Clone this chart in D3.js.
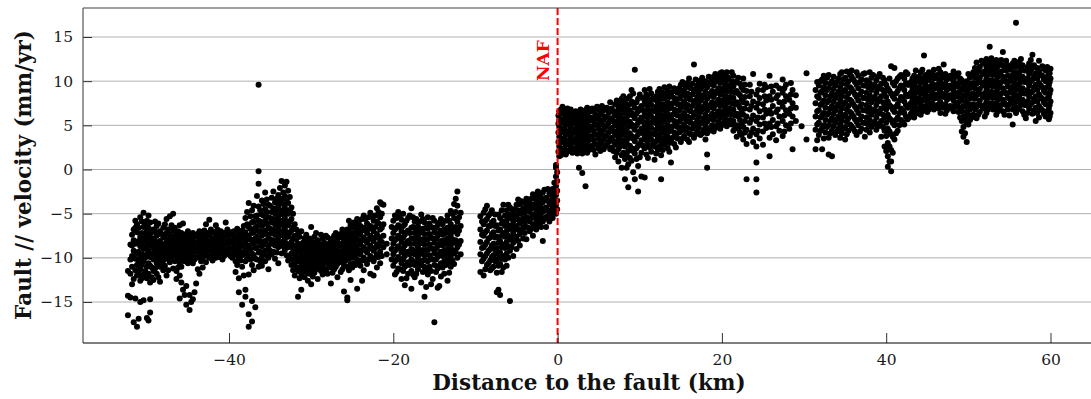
<!DOCTYPE html>
<html><head><meta charset="utf-8">
<script src="https://cdn.jsdelivr.net/npm/d3@7"></script>
<style>body{margin:0;background:#fff}svg{display:block}</style>
</head><body>
<svg id="c" width="1091" height="399"></svg>
<script>
// Distance to fault (km) and velocities (mm/yr) sampled at that distance
const westColumns = [
[-52.3,[-11.5,-14.3,-16.5]],
[-52.0,[-8.5,-10.2,-11.8,-14.5]],
[-51.6,[-6.8,-8.0,-9.2,-12.4,-17.3]],
[-51.2,[-6.2,-7.1,-9.5,-10.8,-12.0,-17.8]],
[-50.8,[-5.4,-7.6,-8.7,-10.0,-11.3,-12.6,-15.0]],
[-50.4,[-4.9,-6.5,-7.9,-9.0,-10.4,-11.9,-14.8]],
[-50.0,[-5.8,-7.0,-8.3,-9.6,-11.0,-12.3,-16.8]],
[-49.6,[-6.0,-7.3,-8.6,-9.9,-10.9,-12.8,-14.7,-16.2]],
[-49.2,[-6.8,-7.8,-8.9,-10.2,-11.5,-12.5]],
[-48.8,[-6.4,-7.5,-8.4,-9.4,-10.6,-11.8]],
[-48.4,[-7.0,-8.1,-9.0,-10.0,-11.0,-12.7]],
[-48.0,[-6.6,-7.7,-8.6,-9.5,-10.3,-11.4]],
[-47.6,[-5.6,-7.2,-8.2,-9.1,-10.1,-12.0]],
[-47.2,[-5.3,-7.4,-8.3,-9.3,-10.5]],
[-46.8,[-5.0,-6.9,-7.9,-8.8,-9.7,-11.2]],
[-46.4,[-7.1,-8.0,-8.9,-9.8,-11.5,-12.4]],
[-46.0,[-6.3,-7.6,-8.5,-9.4,-10.6,-12.0,-14.6]],
[-45.6,[-6.1,-7.8,-8.7,-9.5,-10.2,-13.6]],
[-45.2,[-7.3,-8.2,-9.0,-9.9,-13.2,-15.3]],
[-44.8,[-7.5,-8.4,-9.3,-10.1,-14.2,-15.9]],
[-44.4,[-7.2,-8.1,-9.0,-9.8,-10.6,-14.7]],
[-44.0,[-7.6,-8.5,-9.3,-10.0,-12.9]],
[-43.6,[-7.0,-7.9,-8.8,-9.6,-11.8]],
[-43.2,[-7.4,-8.3,-9.2,-10.1,-11.1]],
[-42.8,[-6.2,-7.7,-8.6,-9.4,-10.5]],
[-42.4,[-5.7,-7.5,-8.4,-9.2,-10.0]],
[-42.0,[-7.8,-8.7,-9.5,-10.3]],
[-41.6,[-6.3,-7.6,-8.5,-9.3,-10.0]],
[-41.2,[-7.3,-8.2,-9.0,-9.9]],
[-40.8,[-7.7,-8.6,-9.4,-10.2]],
[-40.4,[-6.0,-7.5,-8.4,-9.2]],
[-40.0,[-7.9,-8.8,-9.6]],
[-39.6,[-7.4,-8.3,-9.1,-10.0]],
[-39.2,[-7.6,-8.5,-9.4,-10.4,-11.6]],
[-38.8,[-7.2,-8.1,-9.0,-9.9,-12.3,-13.9]],
[-38.4,[-6.9,-7.8,-8.7,-9.7,-11.0,-15.3]],
[-38.0,[-5.5,-7.1,-8.2,-9.2,-10.4,-13.6,-14.4]],
[-37.6,[-3.8,-6.5,-7.5,-8.6,-9.6,-11.9,-16.4,-17.8]],
[-37.2,[-4.6,-6.0,-7.2,-8.4,-9.5,-10.8,-14.9,-17.2]],
[-36.8,[-5.3,-6.6,-7.8,-8.9,-10.1,-15.6]],
[-36.4,[-0.2,-1.6,-4.2,-5.8,-7.0,-8.2,-9.4,-11.0,9.6]],
[-36.0,[-3.5,-5.1,-6.4,-7.5,-8.7,-9.9,-10.9]],
[-35.6,[-2.6,-4.5,-5.8,-6.9,-8.1,-9.2,-10.4]],
[-35.2,[-4.0,-5.4,-6.6,-7.7,-8.9,-10.0,-11.3]],
[-34.8,[-3.2,-4.8,-6.0,-7.2,-8.4,-9.6]],
[-34.4,[-3.7,-5.0,-6.2,-7.4,-8.6,-10.1]],
[-34.0,[-2.9,-4.1,-5.3,-6.5,-7.7,-8.8,-10.6]],
[-33.6,[-1.3,-3.3,-4.6,-5.8,-7.0,-8.2,-9.5]],
[-33.2,[-1.8,-3.0,-4.3,-5.5,-6.7,-7.9,-9.1]],
[-32.8,[-2.4,-3.8,-5.0,-6.3,-7.6,-8.8,-10.3]],
[-32.4,[-4.3,-5.6,-6.9,-8.2,-9.5,-10.8]],
[-32.0,[-6.2,-7.5,-8.6,-9.6,-10.7,-12.0]],
[-31.6,[-7.3,-8.4,-9.4,-10.4,-11.5,-14.4]],
[-31.2,[-7.0,-8.8,-9.7,-10.6,-11.8,-13.6]],
[-30.8,[-7.8,-8.9,-9.9,-10.9,-12.2]],
[-30.4,[-8.2,-9.2,-10.1,-11.1,-12.6]],
[-30.0,[-6.5,-8.6,-9.5,-10.4,-11.4,-13.0]],
[-29.6,[-7.6,-8.9,-9.8,-10.7,-11.7]],
[-29.2,[-8.0,-9.1,-10.0,-10.9,-12.4]],
[-28.8,[-7.4,-8.7,-9.6,-10.5,-11.5]],
[-28.4,[-8.3,-9.3,-10.2,-11.2]],
[-28.0,[-7.7,-8.8,-9.7,-10.6,-11.8]],
[-27.6,[-8.1,-9.0,-9.9,-10.8,-12.9]],
[-27.2,[-7.5,-8.5,-9.4,-10.3,-11.3]],
[-26.8,[-7.9,-8.9,-9.8,-10.7,-12.2]],
[-26.4,[-7.3,-8.4,-9.3,-10.2,-11.6]],
[-26.0,[-7.0,-8.0,-9.0,-9.9,-10.8,-13.8]],
[-25.6,[-6.8,-7.9,-8.9,-9.8,-11.0,-14.5,-14.8]],
[-25.2,[-6.3,-7.5,-8.6,-9.6,-10.7,-12.5]],
[-24.8,[-6.0,-7.2,-8.3,-9.4,-10.6]],
[-24.4,[-5.6,-6.8,-7.9,-9.0,-10.2,-13.5]],
[-24.0,[-6.4,-7.4,-8.5,-9.6,-10.9]],
[-23.6,[-5.2,-6.6,-7.7,-8.8,-10.0,-11.4]],
[-23.2,[-6.1,-7.2,-8.3,-9.4,-10.7]],
[-22.8,[-4.9,-6.4,-7.5,-8.6,-9.8,-11.8]],
[-22.4,[-5.8,-7.0,-8.1,-9.2,-10.4,-12.0]],
[-22.0,[-4.4,-5.9,-7.3,-8.5,-9.6,-11.1]],
[-21.6,[-3.7,-5.4,-6.8,-8.0,-9.3,-10.6]],
[-21.2,[-4.0,-6.2,-7.5,-8.8]],
[-20.8,[-8.4,-9.6]],
[-20.2,[-6.5,-7.8,-9.0,-10.2]],
[-19.8,[-5.2,-6.8,-8.0,-9.2,-10.4,-11.9]],
[-19.4,[-4.8,-6.3,-7.5,-8.7,-9.9,-11.2]],
[-19.0,[-5.7,-7.0,-8.2,-9.4,-10.6,-12.4]],
[-18.6,[-6.2,-7.4,-8.6,-9.8,-11.0,-13.1]],
[-18.2,[-5.5,-6.9,-8.1,-9.3,-10.5,-11.8]],
[-17.8,[-4.4,-6.6,-7.8,-9.0,-10.2,-11.5,-13.5]],
[-17.4,[-5.9,-7.2,-8.4,-9.6,-10.8,-12.2]],
[-17.0,[-6.4,-7.6,-8.8,-10.0,-11.3]],
[-16.6,[-5.1,-6.8,-8.0,-9.2,-10.5,-12.8]],
[-16.2,[-6.0,-7.3,-8.5,-9.7,-11.0,-14.4]],
[-15.8,[-5.4,-6.7,-7.9,-9.1,-10.4,-11.9]],
[-15.4,[-6.5,-7.7,-8.9,-10.1,-11.5,-13.0]],
[-15.0,[-5.8,-7.1,-8.3,-9.5,-10.8,-17.3]],
[-14.6,[-6.3,-7.5,-8.7,-9.9,-11.2,-13.4]],
[-14.2,[-5.6,-6.9,-8.1,-9.3,-10.6,-12.1]],
[-13.8,[-6.8,-8.0,-9.2,-10.4,-11.8]],
[-13.4,[-5.2,-6.6,-7.8,-9.0,-10.2,-12.6]],
[-13.0,[-4.7,-6.2,-7.4,-8.6,-9.8,-11.0]],
[-12.6,[-3.9,-5.5,-7.0,-8.3,-9.5,-10.7]],
[-12.2,[-2.5,-4.1,-5.9,-7.3,-8.8,-10.0]],
[-11.8,[-4.9,-6.4,-8.1,-9.6]],
[-9.4,[-5.3,-6.8,-8.2,-9.6,-11.6]],
[-9.0,[-4.9,-6.2,-7.5,-8.8,-10.1,-12.0]],
[-8.6,[-4.1,-5.6,-6.9,-8.2,-9.5,-10.8]],
[-8.2,[-5.0,-6.4,-7.7,-9.0,-10.3,-11.4]],
[-7.8,[-5.8,-7.1,-8.4,-9.7,-11.0]],
[-7.4,[-6.3,-7.6,-8.9,-10.2,-11.7,-13.9]],
[-7.0,[-5.5,-6.8,-8.1,-9.4,-10.7,-14.2]],
[-6.6,[-4.0,-5.9,-7.2,-8.5,-9.8,-11.1]],
[-6.2,[-4.6,-5.8,-7.0,-8.2,-9.5,-10.9]],
[-5.8,[-4.3,-5.5,-6.7,-7.9,-9.2,-14.9]],
[-5.4,[-4.8,-5.9,-7.1,-8.3,-9.8]],
[-5.0,[-4.0,-5.2,-6.4,-7.6,-9.0]],
[-4.6,[-3.9,-5.0,-6.1,-7.3,-8.6]],
[-4.2,[-4.4,-5.5,-6.6,-7.8]],
[-3.8,[-3.3,-4.3,-5.4,-6.5,-7.9]],
[-3.4,[-3.8,-4.8,-5.9,-7.0]],
[-3.0,[-2.8,-4.0,-5.1,-6.2,-7.5]],
[-2.6,[-3.5,-4.6,-5.7,-6.8]],
[-2.2,[-3.0,-4.1,-5.2,-6.3]],
[-1.8,[-2.6,-3.7,-4.8,-5.9,-8.1]],
[-1.4,[-3.2,-4.3,-5.4,-6.5]],
[-1.0,[-2.7,-3.8,-4.9,-5.9]],
[-0.6,[-2.2,-3.3,-4.4,-5.5]],
[-0.2,[-0.8,-1.9,-2.9,-4.0,-5.0,0.2,0.5]]
];
const westColumnsInfill = [
[-51.8,[-7.4,-8.6,-9.8,-11.0,-13.0]],
[-51.4,[-5.8,-6.6,-8.4,-10.1,-11.4,-14.6]],
[-51.0,[-6.6,-8.1,-9.3,-10.5,-11.8,-16.9]],
[-50.6,[-5.9,-7.2,-8.3,-9.6,-10.8,-12.3]],
[-50.2,[-6.1,-7.4,-8.8,-10.0,-11.5]],
[-49.8,[-5.2,-6.6,-7.8,-9.2,-10.6,-11.8,-17.1]],
[-49.4,[-7.1,-8.3,-9.5,-11.1,-12.2]],
[-49.0,[-5.9,-7.0,-8.1,-9.0,-9.9,-11.2]],
[-48.6,[-6.1,-7.3,-8.6,-9.6,-10.4,-12.2]],
[-48.2,[-7.3,-8.4,-9.3,-10.6]],
[-47.8,[-6.2,-7.4,-8.9,-9.9,-10.9]],
[-47.4,[-6.8,-7.9,-8.8,-9.7,-11.4]],
[-47.0,[-6.3,-7.6,-8.5,-9.5,-10.2]],
[-46.6,[-6.6,-7.5,-8.4,-9.3,-10.4]],
[-46.2,[-7.0,-8.2,-9.1,-10.1,-11.1]],
[-45.8,[-7.2,-8.1,-9.0,-9.9,-11.0,-12.8]],
[-45.4,[-7.6,-8.5,-9.3,-10.4,-14.2]],
[-45.0,[-7.0,-7.9,-8.8,-9.6,-10.6]],
[-44.6,[-7.8,-8.7,-9.6,-10.3,-15.0]],
[-44.2,[-7.5,-8.4,-9.2,-10.2,-13.9]],
[-43.8,[-7.3,-8.2,-9.0,-9.9,-11.3]],
[-43.4,[-7.7,-8.6,-9.5,-10.4]],
[-43.0,[-6.9,-8.0,-8.9,-9.7]],
[-42.6,[-7.2,-8.1,-9.0,-9.8]],
[-42.2,[-6.8,-7.2,-8.2,-9.0,-9.9]],
[-41.8,[-7.1,-8.1,-8.9,-9.8]],
[-41.4,[-6.8,-7.8,-8.7,-9.6]],
[-41.0,[-7.0,-7.9,-8.8,-9.7]],
[-40.6,[-7.2,-8.1,-9.0,-9.8]],
[-40.2,[-6.8,-7.4,-8.3,-9.3]],
[-39.8,[-7.1,-8.1,-9.0,-9.8]],
[-39.4,[-7.0,-7.9,-8.8,-9.7]],
[-39.0,[-6.7,-7.6,-8.5,-9.5,-10.8]],
[-38.6,[-7.4,-8.4,-9.3,-10.3]],
[-38.2,[-6.4,-7.5,-8.5,-9.6,-12.0]],
[-37.8,[-4.8,-6.2,-7.9,-9.0,-10.1]],
[-37.4,[-5.3,-6.7,-7.9,-9.0,-10.2]],
[-37.0,[-4.1,-5.9,-7.1,-8.3,-9.7,-11.4]],
[-36.6,[-3.0,-5.2,-6.4,-7.6,-8.8,-10.2]],
[-36.2,[-4.6,-5.9,-7.0,-8.1,-9.3,-10.4]],
[-35.8,[-3.9,-5.2,-6.2,-7.3,-8.5,-9.6]],
[-35.4,[-3.4,-4.8,-6.1,-7.3,-8.5,-9.7]],
[-35.0,[-4.1,-5.5,-6.7,-7.9,-9.2]],
[-34.6,[-2.5,-4.4,-5.6,-6.8,-8.0,-9.3]],
[-34.2,[-3.3,-4.6,-5.8,-7.0,-8.2,-9.4]],
[-33.8,[-2.1,-3.7,-4.9,-6.1,-7.4,-8.6]],
[-33.4,[-2.6,-3.9,-5.1,-6.3,-7.5,-8.7]],
[-33.0,[-1.4,-3.4,-4.7,-5.9,-7.1,-8.4,-9.7]],
[-32.6,[-3.1,-4.6,-5.9,-7.2,-8.6,-9.9]],
[-32.2,[-5.0,-6.5,-7.8,-9.0,-10.2,-11.4]],
[-31.8,[-6.8,-7.9,-9.0,-10.0,-11.1]],
[-31.4,[-7.6,-8.5,-9.3,-10.2,-11.1,-12.3]],
[-31.0,[-8.3,-9.2,-10.2,-11.3]],
[-30.6,[-7.4,-8.6,-9.6,-10.5,-11.6]],
[-30.2,[-7.8,-8.9,-9.8,-10.7,-11.8]],
[-29.8,[-8.2,-9.2,-10.1,-11.0,-12.1]],
[-29.4,[-7.2,-8.5,-9.5,-10.4,-11.3]],
[-29.0,[-8.4,-9.4,-10.3,-11.2]],
[-28.6,[-7.8,-9.0,-9.9,-10.8,-11.9]],
[-28.2,[-7.5,-8.5,-9.5,-10.4,-11.5]],
[-27.8,[-8.4,-9.3,-10.2,-11.1]],
[-27.4,[-7.8,-8.8,-9.7,-10.6,-11.7]],
[-27.0,[-7.2,-8.2,-9.1,-10.0,-11.0]],
[-26.6,[-7.6,-8.6,-9.6,-10.5]],
[-26.2,[-6.8,-7.7,-8.7,-9.6,-10.5,-11.3]],
[-25.8,[-7.4,-8.4,-9.3,-10.3]],
[-25.4,[-5.8,-7.0,-8.1,-9.1,-10.1,-11.4]],
[-25.0,[-6.6,-7.8,-8.9,-10.0,-11.1]],
[-24.6,[-6.3,-7.4,-8.6,-9.7,-10.8]],
[-24.2,[-5.9,-7.0,-8.1,-9.2,-10.4]],
[-23.8,[-5.6,-6.9,-8.0,-9.1,-10.3,-12.6]],
[-23.4,[-5.6,-6.8,-8.0,-9.1,-10.3]],
[-23.0,[-5.4,-6.7,-7.9,-9.0,-10.2]],
[-22.6,[-5.3,-6.7,-7.8,-8.9,-10.1]],
[-22.2,[-5.2,-6.5,-7.7,-8.9,-10.0]],
[-21.8,[-4.8,-6.1,-7.6,-8.7,-9.9]],
[-21.4,[-3.9,-5.0,-6.6,-8.2,-9.8]],
[-20.0,[-5.8,-7.2,-8.4,-9.6,-10.9]],
[-19.6,[-5.5,-6.6,-7.8,-9.0,-10.2,-11.6]],
[-19.2,[-5.2,-6.5,-7.7,-8.9,-10.1,-11.3]],
[-18.8,[-5.0,-6.4,-7.7,-9.0,-10.2,-11.5]],
[-18.4,[-5.8,-7.1,-8.3,-9.5,-10.8,-12.3]],
[-18.0,[-5.2,-7.2,-8.4,-9.6,-10.8]],
[-17.6,[-5.4,-6.5,-7.8,-9.1,-10.4,-11.9]],
[-17.2,[-5.6,-6.9,-8.1,-9.3,-10.5,-11.8]],
[-16.8,[-5.9,-7.2,-8.4,-9.6,-10.9]],
[-16.4,[-5.6,-6.7,-7.9,-9.1,-10.3,-11.6]],
[-16.0,[-6.6,-7.9,-9.1,-10.3,-11.4,-13.3]],
[-15.6,[-6.1,-7.3,-8.5,-9.7,-11.0]],
[-15.2,[-5.5,-6.6,-7.8,-9.0,-10.2,-12.4]],
[-14.8,[-6.6,-7.8,-9.0,-10.2,-11.6]],
[-14.4,[-6.0,-7.2,-8.4,-9.6,-10.9,-13.2]],
[-14.0,[-6.2,-7.4,-8.6,-9.8,-11.1]],
[-13.6,[-5.8,-7.2,-8.4,-9.6,-10.8]],
[-13.2,[-5.8,-7.0,-8.2,-9.4,-10.7,-11.7]],
[-12.8,[-5.0,-6.6,-7.9,-9.1,-10.3]],
[-12.4,[-3.3,-4.8,-6.5,-8.0,-9.3]],
[-12.0,[-5.4,-6.9,-8.5]],
[-9.2,[-5.9,-7.4,-8.9,-10.4]],
[-8.8,[-4.5,-5.8,-7.1,-8.5,-9.8,-11.3]],
[-8.4,[-5.2,-6.4,-7.8,-9.2,-10.6]],
[-8.0,[-4.6,-6.0,-7.3,-8.6,-9.9,-11.2]],
[-7.6,[-5.1,-6.4,-7.7,-9.1,-10.4]],
[-7.2,[-5.1,-6.9,-8.3,-9.6,-10.9,-13.6]],
[-6.8,[-4.6,-6.1,-7.5,-8.8,-10.1,-11.6]],
[-6.4,[-5.2,-6.4,-7.6,-8.9,-10.2]],
[-6.0,[-4.0,-5.1,-6.3,-7.5,-8.7,-10.0]],
[-5.6,[-4.5,-5.3,-6.4,-7.6,-8.8]],
[-5.2,[-4.5,-5.6,-6.8,-8.0]],
[-4.8,[-3.4,-4.6,-5.7,-6.8,-8.1]],
[-4.4,[-3.6,-4.8,-5.9,-7.1]],
[-4.0,[-3.8,-4.9,-6.0,-7.2]],
[-3.6,[-3.4,-4.4,-5.5,-6.6]],
[-3.2,[-3.3,-4.4,-5.5,-6.7]],
[-2.8,[-3.0,-4.1,-5.2,-6.3]],
[-2.4,[-2.5,-3.6,-4.7,-5.8]],
[-2.0,[-3.2,-4.3,-5.4,-6.5]],
[-1.6,[-2.3,-3.4,-4.6,-5.6]],
[-1.2,[-2.2,-3.5,-4.6,-5.3]],
[-0.8,[-2.9,-4.0,-5.1]],
[-0.4,[-1.5,-2.7,-3.8,-4.9]],
[-0.05,[-0.3,-1.3,-2.4,-3.5,-4.5]]
];
const eastColumns = [
[0.2,[1.5,2.6,3.7,4.8,5.6,6.6]],
[0.6,[2.0,3.1,4.2,5.3,6.3,7.1]],
[1.0,[1.7,2.8,3.9,5.0,6.0]],
[1.4,[2.2,3.3,4.4,5.5,6.5]],
[1.8,[1.9,3.0,4.1,5.2,6.2]],
[2.2,[2.4,3.5,4.6,5.7,6.6]],
[2.6,[0.2,2.1,3.2,4.3,5.4,6.4]],
[3.0,[-0.4,1.8,2.9,4.0,5.1,6.1]],
[3.4,[-1.9,2.5,3.6,4.7,5.8,6.7]],
[3.8,[2.2,3.3,4.4,5.5,6.5]],
[4.2,[2.7,3.8,4.9,5.9,6.9]],
[4.6,[1.7,2.9,4.0,5.1,6.2]],
[5.0,[2.4,3.5,4.6,5.7,6.8]],
[5.4,[2.9,4.0,5.1,6.2,7.2]],
[5.8,[2.6,3.7,4.8,5.9,6.9]],
[6.2,[3.1,4.2,5.3,6.4]],
[6.6,[2.5,3.6,4.7,5.8,6.9]],
[7.0,[1.4,2.8,3.9,5.0,6.1,7.4]],
[7.4,[0.9,2.3,3.5,4.7,5.9,7.1]],
[7.8,[0.2,1.6,3.0,4.3,5.5,6.8,8.0]],
[8.2,[-1.1,1.2,2.6,3.9,5.2,6.4,7.6]],
[8.6,[-2.0,0.6,2.1,3.5,4.8,6.1,7.3]],
[9.0,[1.0,2.4,3.8,5.1,6.4,7.7,9.0]],
[9.4,[-1.1,1.8,3.2,4.5,5.8,7.0,11.3]],
[9.8,[-2.5,0.4,2.7,4.0,5.3,6.6,8.0]],
[10.2,[-0.8,1.9,3.3,4.6,5.9,7.2]],
[10.6,[-0.9,2.4,3.8,5.1,6.4,7.7,9.0]],
[11.0,[1.3,2.9,4.2,5.5,6.8,8.1]],
[11.4,[2.0,3.4,4.7,6.0,7.3,8.6]],
[11.8,[1.1,2.6,4.0,5.3,6.6,7.9]],
[12.2,[2.2,3.6,4.9,6.2,7.5,8.8]],
[12.6,[-1.1,1.6,3.1,4.5,5.8,7.1,8.4]],
[13.0,[2.8,4.1,5.4,6.7,8.0,9.3]],
[13.4,[2.4,3.7,5.0,6.3,7.6,8.9]],
[13.8,[0.8,3.3,4.6,5.9,7.2,8.5]],
[14.2,[2.9,4.2,5.5,6.8,8.1,9.2]],
[14.6,[3.5,4.8,6.1,7.4,8.7]],
[15.0,[3.1,4.4,5.7,7.0,8.3,9.6]],
[15.4,[3.8,5.1,6.4,7.7,9.0]],
[15.8,[3.4,4.7,6.0,7.3,8.6,9.8]],
[16.2,[4.0,5.3,6.6,7.9,9.2]],
[16.6,[3.6,4.9,6.2,7.5,8.8,11.9]],
[17.0,[4.3,5.6,6.9,8.2,9.5]],
[17.4,[3.9,5.2,6.5,7.8,9.1,10.1]],
[17.8,[4.5,5.8,7.1,8.4,9.7]],
[18.2,[0.2,1.7,4.1,5.4,6.7,8.0,9.3]],
[18.6,[4.7,6.0,7.3,8.6,9.9]],
[19.0,[4.3,5.6,6.9,8.2,9.5,10.5]],
[19.4,[5.0,6.3,7.6,8.9,10.2]],
[19.8,[4.6,5.9,7.2,8.5,9.8,10.9]],
[20.2,[5.3,6.6,7.9,9.2,10.4]],
[20.6,[4.9,6.2,7.5,8.8,10.1,11.0]],
[21.0,[5.6,6.9,8.2,9.5]],
[21.4,[4.4,5.5,6.8,8.1,9.4,10.6]],
[21.8,[3.7,5.0,6.3,7.6,8.9,10.0]],
[22.2,[4.2,5.6,7.0,8.4,9.7]],
[22.6,[3.4,4.8,6.2,7.6,9.0,10.3]],
[23.0,[-1.1,2.9,4.5,6.0,7.5,8.9]],
[23.4,[3.8,5.3,6.8,8.3,9.6]],
[23.8,[3.1,4.6,6.1,7.7,10.8]],
[24.2,[-2.6,-1.1,0.8,2.6,4.0,5.5,7.0,8.5]],
[24.6,[3.5,5.1,6.6,8.1,9.7]],
[25.0,[2.8,4.3,5.9,7.4,9.0]],
[25.4,[4.7,6.3,7.8,9.3]],
[25.8,[1.5,3.6,5.2,6.7,8.3,10.6]],
[26.2,[4.0,5.6,7.2,8.8]],
[26.6,[3.3,4.9,6.5,8.1,9.5]],
[27.0,[4.4,6.0,7.6,9.2]],
[27.4,[3.8,5.5,7.1,8.7,10.2]],
[27.8,[5.0,6.7,8.3,9.6]],
[28.2,[4.6,6.3,7.9]],
[28.6,[2.3,6.0,7.5,9.0]],
[29.0,[5.5,7.0,8.4]],
[29.7,[4.9]],
[30.3,[3.4,10.9]],
[31.4,[2.3,4.5,6.0,7.5,9.0]],
[31.8,[3.9,5.3,6.7,8.1,9.5]],
[32.2,[2.3,4.7,6.1,7.5,8.9,10.2]],
[32.6,[4.2,5.6,7.0,8.4,9.8]],
[33.0,[1.7,3.6,5.0,6.4,7.8,9.2,10.7]],
[33.4,[1.5,4.4,5.8,7.2,8.6,10.0]],
[33.8,[3.9,5.3,6.7,8.1,9.5]],
[34.2,[4.6,6.0,7.4,8.8,10.3]],
[34.6,[4.1,5.5,6.9,8.3,9.7,11.0]],
[35.0,[3.4,4.8,6.2,7.6,9.0,10.4]],
[35.4,[4.4,5.8,7.2,8.6,10.0]],
[35.8,[4.9,6.3,7.7,9.1,10.5,11.2]],
[36.2,[4.3,5.7,7.1,8.5,9.9]],
[36.6,[5.0,6.4,7.8,9.2,10.6]],
[37.0,[4.6,6.0,7.4,8.8,10.2]],
[37.4,[3.7,5.3,6.7,8.1,9.5,10.9]],
[37.8,[5.1,6.5,7.9,9.3]],
[38.2,[4.8,6.2,7.6,9.0,10.4]],
[38.6,[5.4,6.8,8.2,9.6]],
[39.0,[4.9,6.3,7.7,9.1,10.5]],
[39.4,[3.7,5.5,6.9,8.3,9.7]],
[39.8,[2.6,4.4,5.9,7.3,8.7,10.1]],
[40.2,[0.3,1.5,3.0,4.6,6.2,7.7,9.2]],
[40.6,[-0.2,0.9,2.2,4.0,5.6,7.1,8.6,11.7]],
[41.0,[3.4,5.0,6.5,8.0,9.5,11.5]],
[41.4,[4.4,5.9,7.4,8.9,10.3]],
[41.8,[5.6,6.9,8.2,9.5,10.7]],
[42.2,[5.1,6.4,7.7,9.0,10.3]],
[42.6,[5.7,7.0,8.3,9.6,10.8]],
[43.0,[6.3,7.5,8.7,9.9]],
[43.4,[5.9,7.1,8.3,9.5,10.6]],
[43.8,[6.6,7.8,9.0,10.2]],
[44.2,[6.2,7.4,8.6,9.8,11.0]],
[44.6,[6.9,8.0,9.2,10.4,12.9]],
[45.0,[6.5,7.7,8.9,10.1]],
[45.4,[7.2,8.3,9.4,10.5]],
[45.8,[6.8,8.0,9.1,10.3,11.3]],
[46.2,[7.3,8.5,9.6,10.7]],
[46.6,[6.4,7.6,8.8,9.9,11.0]],
[47.0,[7.0,8.2,9.3,10.4,11.9]],
[47.4,[6.7,7.9,9.0,10.2]],
[47.8,[7.2,8.4,9.5,10.6]],
[48.2,[6.6,7.8,8.9,10.0,11.1]],
[48.6,[7.1,8.3,9.4,10.5]],
[49.0,[5.9,7.0,8.1,9.2,10.3]],
[49.4,[3.7,4.8,6.0,7.2,8.4,9.6]],
[49.8,[3.1,5.2,6.5,7.7,8.9,10.0]],
[50.2,[5.6,6.8,8.0,9.2,10.4]],
[50.6,[6.2,7.4,8.6,9.8,11.0]],
[51.0,[5.8,7.1,8.4,9.7,10.9,12.1]],
[51.4,[6.5,7.8,9.1,10.4,11.6]],
[51.8,[6.9,8.2,9.5,10.8,12.0]],
[52.2,[6.4,7.7,9.0,10.3,11.6,12.5]],
[52.6,[7.2,8.5,9.8,11.1,12.2,13.9]],
[53.0,[6.8,8.1,9.4,10.7,11.9]],
[53.4,[6.2,7.5,8.8,10.1,11.4,12.4]],
[53.8,[7.0,8.3,9.6,10.9,12.1]],
[54.2,[6.6,7.9,9.2,10.5,11.8,13.3]],
[54.6,[7.3,8.6,9.9,11.2,12.3]],
[55.0,[6.1,7.4,8.7,10.0,11.3]],
[55.4,[5.1,6.8,8.1,9.4,10.7,12.0]],
[55.8,[6.4,7.7,9.0,10.3,11.6,16.6]],
[56.2,[7.1,8.4,9.7,11.0,12.2]],
[56.6,[6.6,7.9,9.2,10.5,11.8]],
[57.0,[5.8,7.3,8.6,9.9,11.2]],
[57.4,[6.9,8.2,9.5,10.8,12.0]],
[57.8,[6.3,7.6,8.9,10.2,11.5,13.0]],
[58.2,[5.5,7.0,8.3,9.6,10.9]],
[58.6,[5.9,7.2,8.5,9.8,11.1,12.3]],
[59.0,[6.7,8.0,9.3,10.6,11.7]],
[59.4,[6.0,7.4,8.7,10.0,11.2]],
[59.8,[5.7,6.9,8.2,9.5,10.8]],
[60.0,[6.4,7.7,9.0,10.3,11.4]]
];
const eastColumnsInfill = [
[0.1,[2.0,3.1,4.2,5.2,6.1]],
[0.4,[1.6,2.4,3.5,4.6,5.7,6.8]],
[0.8,[2.4,3.5,4.6,5.7,6.6]],
[1.2,[2.0,3.0,4.1,5.2,6.2,6.9]],
[1.6,[2.6,3.7,4.8,5.8,6.8]],
[2.0,[2.1,3.2,4.3,5.4,6.4]],
[2.4,[1.8,2.8,3.9,5.0,6.0]],
[2.8,[2.5,3.6,4.7,5.8,6.8]],
[3.2,[2.0,3.1,4.2,5.3,6.4]],
[3.6,[1.9,2.8,3.9,5.0,6.1,7.0]],
[4.0,[2.4,3.5,4.6,5.6,6.6]],
[4.4,[2.2,3.3,4.4,5.5,6.6]],
[4.8,[2.8,3.9,5.0,6.0,7.1]],
[5.2,[2.1,3.1,4.2,5.3,6.4]],
[5.6,[2.3,3.4,4.5,5.6,6.7]],
[6.0,[2.8,3.9,5.0,6.0,7.0]],
[6.4,[2.3,3.4,4.5,5.6,6.7,7.6]],
[6.8,[2.1,3.2,4.3,5.4,6.5]],
[7.2,[1.9,3.1,4.3,5.4,6.6,7.8]],
[7.6,[2.6,3.8,5.0,6.2,7.5]],
[8.0,[1.9,3.3,4.6,5.8,7.1,8.3]],
[8.4,[0.2,1.7,3.0,4.3,5.6,6.8,8.0]],
[8.8,[1.3,2.7,4.1,5.4,6.7,8.3]],
[9.2,[-0.3,2.1,3.5,4.8,6.1,7.4,8.6]],
[9.6,[1.2,2.4,3.7,5.0,6.3,7.6]],
[10.0,[1.4,2.9,4.3,5.6,6.9,8.5]],
[10.4,[2.7,4.1,5.4,6.7,8.1]],
[10.8,[1.7,3.3,4.6,6.0,7.3,8.5]],
[11.2,[2.5,3.8,5.1,6.4,7.7,9.1]],
[11.6,[2.8,4.1,5.4,6.7,8.0]],
[12.0,[1.8,3.2,4.5,5.8,7.1,8.3]],
[12.4,[2.6,4.0,5.3,6.6,7.9,9.1]],
[12.8,[2.2,3.5,4.8,6.1,7.4,8.7]],
[13.2,[3.2,4.5,5.8,7.1,8.4]],
[13.6,[2.0,3.0,4.3,5.6,6.9,8.2,9.4]],
[14.0,[3.6,4.9,6.2,7.5,8.8]],
[14.4,[2.5,3.9,5.2,6.5,7.8,9.0]],
[14.8,[4.2,5.4,6.7,8.0,9.2]],
[15.2,[3.5,4.8,6.1,7.4,8.7,9.9]],
[15.6,[4.4,5.7,7.0,8.3,9.5]],
[16.0,[3.1,4.1,5.4,6.7,8.0,9.3,10.3]],
[16.4,[4.6,5.9,7.2,8.5,9.7]],
[16.8,[4.0,5.2,6.5,7.8,9.1,10.2]],
[17.2,[4.7,6.0,7.3,8.6,9.8]],
[17.6,[4.1,5.4,6.8,8.1,9.4,10.4]],
[18.0,[3.4,4.9,6.2,7.5,8.8,10.0]],
[18.4,[4.4,5.7,7.0,8.3,9.6,10.5]],
[18.8,[5.0,6.3,7.6,8.9,10.2]],
[19.2,[4.7,6.0,7.3,8.6,9.9,10.8]],
[19.6,[5.4,6.6,7.9,9.2,10.5]],
[20.0,[5.0,6.2,7.5,8.8,10.1,11.0]],
[20.4,[5.7,7.0,8.3,9.6,10.7]],
[20.8,[5.3,6.6,7.9,9.2,10.4]],
[21.2,[5.1,6.2,7.5,8.8,10.0,11.0]],
[21.6,[4.9,6.1,7.4,8.7,9.8]],
[22.0,[4.6,6.0,7.3,8.6,10.4]],
[22.4,[3.9,5.1,6.5,7.9,9.3]],
[22.8,[4.2,5.5,6.9,8.2,9.6]],
[23.6,[4.2,5.7,7.2,8.8]],
[24.4,[4.4,5.9,7.5,9.0]],
[25.2,[5.2,6.8,8.3,9.6]],
[26.0,[4.8,6.3,7.9,9.4]],
[26.8,[5.2,6.8,8.4]],
[27.6,[4.3,6.1,7.7,9.2]],
[28.4,[5.2,6.9,8.5,9.8]],
[31.6,[3.3,5.1,6.6,8.3,9.9]],
[32.0,[4.4,5.9,7.3,8.7,10.0]],
[32.4,[3.5,5.0,6.4,7.8,9.3,10.6]],
[32.8,[4.8,6.2,7.6,9.0,10.4]],
[33.2,[4.1,5.5,6.9,8.3,9.7]],
[33.6,[4.9,6.3,7.7,9.1,10.5]],
[34.0,[4.3,5.7,7.1,8.5,9.9]],
[34.4,[3.6,5.1,6.5,7.9,9.3,10.8]],
[34.8,[4.6,6.0,7.4,8.8,10.2]],
[35.2,[4.0,5.4,6.8,8.2,9.6,11.1]],
[35.6,[5.1,6.5,7.9,9.3,10.7]],
[36.0,[4.6,6.0,7.4,8.8,10.2]],
[36.4,[3.9,5.4,6.8,8.2,9.6,11.0]],
[36.8,[4.3,5.7,7.1,8.5,9.9]],
[37.2,[5.3,6.7,8.1,9.5,10.8]],
[37.6,[4.5,5.9,7.3,8.7,10.1]],
[38.0,[4.2,5.6,7.0,8.4,9.8,11.0]],
[38.4,[5.1,6.5,7.9,9.3,10.7]],
[38.8,[4.5,5.9,7.3,8.7,10.1]],
[39.2,[5.2,6.6,8.0,9.4,10.8]],
[39.6,[4.8,6.2,7.6,9.0,10.4]],
[40.0,[2.1,3.8,5.3,6.8,8.2,9.6]],
[40.4,[0.9,2.6,4.3,5.8,7.3,8.9,10.3]],
[40.8,[1.9,3.7,5.3,6.8,8.3,9.8]],
[41.2,[4.1,5.6,7.1,8.6,10.0]],
[41.6,[5.0,6.4,7.8,9.2,10.5]],
[42.0,[5.4,6.7,8.0,9.3,10.6]],
[42.4,[6.0,7.3,8.5,9.8,11.0]],
[42.8,[5.9,7.2,8.4,9.6]],
[43.2,[6.7,7.9,9.1,10.3]],
[43.6,[6.3,7.5,8.7,9.9,11.2]],
[44.0,[6.9,8.1,9.3,10.5]],
[44.4,[6.6,7.8,8.9,10.1,11.3]],
[44.8,[7.2,8.4,9.6,10.7]],
[45.2,[6.8,8.0,9.1,10.2,11.0]],
[45.6,[7.5,8.6,9.7,10.8]],
[46.0,[7.0,8.2,9.3,10.4]],
[46.4,[6.9,8.0,9.1,10.2,11.4]],
[46.8,[7.3,8.5,9.6,10.7]],
[47.2,[6.3,7.4,8.6,9.7,10.8]],
[47.6,[7.0,8.1,9.2,10.4]],
[48.0,[6.9,8.1,9.2,10.3]],
[48.4,[7.4,8.6,9.7,10.8]],
[48.8,[6.5,7.6,8.7,9.8,10.9]],
[49.2,[4.3,5.5,6.6,7.8,9.0,10.1]],
[49.6,[4.1,5.8,7.1,8.3,9.4]],
[50.0,[5.1,6.2,7.4,8.6,9.8,10.8]],
[50.4,[5.9,7.1,8.3,9.5,10.7]],
[50.8,[6.8,8.0,9.2,10.4,11.5]],
[51.2,[6.2,7.4,8.7,10.0,11.2]],
[51.6,[7.2,8.5,9.8,11.0,12.3]],
[52.0,[6.0,7.3,8.6,9.9,11.1,12.2]],
[52.4,[6.8,8.1,9.4,10.7,11.9]],
[52.8,[7.5,8.8,10.1,11.4,12.6]],
[53.2,[7.1,8.4,9.7,11.0,12.2]],
[53.6,[6.6,7.9,9.2,10.5,11.7]],
[54.0,[7.3,8.6,9.9,11.1,12.4]],
[54.4,[6.2,7.5,8.8,10.1,11.4]],
[54.8,[6.8,8.1,9.4,10.6,11.8]],
[55.2,[7.7,9.0,10.3,11.5]],
[55.6,[7.2,8.5,9.8,11.0,12.3]],
[56.0,[6.8,8.0,9.3,10.6,11.9]],
[56.4,[7.5,8.8,10.1,11.4,12.5]],
[56.8,[6.2,7.3,8.6,9.9,11.2]],
[57.2,[6.4,7.7,9.0,10.3,11.6]],
[57.6,[7.4,8.7,10.0,11.2,12.4]],
[58.0,[6.7,8.0,9.3,10.6,11.8]],
[58.4,[6.4,7.7,9.0,10.3,11.5]],
[58.8,[6.9,8.2,9.5,10.7]],
[59.2,[6.3,7.6,8.9,10.2,11.4]],
[59.6,[6.6,8.0,9.3,10.5,11.6]],
[59.9,[6.0,7.3,8.6,9.9,10.9]]
];
const xTicks = [-40, -20, 0, 20, 40, 60];
const yTicks = [-15, -10, -5, 0, 5, 10, 15];
const faultPosition = 0;
const faultLabel = "NAF";
const xLabel = "Distance to the fault (km)";
const yLabel = "Fault // velocity (mm/yr)";

const points = [];
for (const [d, vs] of [...westColumns, ...westColumnsInfill, ...eastColumns, ...eastColumnsInfill])
  for (const v of vs) points.push({d, v});

const svg = d3.select("#c");
const L = 83, T = 8, B = 343, R = 1100;
const x = d3.scaleLinear().domain([-40, 60]).range([229, 1050.5]);
const y = d3.scaleLinear().domain([-15, 15]).range([302, 37]);
const font = "'DejaVu Serif', serif";

// grid
svg.append("g").selectAll("line").data(yTicks).join("line")
  .attr("x1", L).attr("x2", R).attr("y1", d => y(d)).attr("y2", d => y(d))
  .attr("stroke", "#b0b0b0").attr("stroke-width", 1);

// points
svg.append("g").selectAll("circle").data(points).join("circle")
  .attr("cx", p => x(p.d)).attr("cy", p => y(p.v)).attr("r", 3).attr("fill", "#000");

// fault line
svg.append("line").attr("x1", x(faultPosition)).attr("x2", x(faultPosition))
  .attr("y1", T).attr("y2", B).attr("stroke", "red").attr("stroke-width", 2)
  .attr("stroke-dasharray", "7,3");
svg.append("text").attr("transform", `translate(${x(faultPosition) - 9},81) rotate(-90)`)
  .attr("font-family", font).attr("font-weight", "bold").attr("font-size", 17)
  .attr("fill", "red").text(faultLabel);

// axes
const yAxis = d3.axisLeft(y).tickValues(yTicks).tickSizeInner(-9).tickSizeOuter(0).tickPadding(10);
const gy = svg.append("g").attr("transform", `translate(${L},0)`).call(yAxis);
gy.select(".domain").remove();
gy.selectAll("line").attr("stroke", "#333");
gy.selectAll("text").attr("font-family", font).attr("font-size", 15.5).attr("fill", "#1a1a1a");

const xAxis = d3.axisBottom(x).tickValues(xTicks).tickSizeInner(-10).tickSizeOuter(0).tickPadding(11);
const gx = svg.append("g").attr("transform", `translate(0,${B})`).call(xAxis);
gx.select(".domain").remove();
gx.selectAll("line").attr("stroke", "#333");
gx.selectAll("text").attr("font-family", font).attr("font-size", 15.5).attr("fill", "#1a1a1a");

// spines
svg.append("line").attr("x1", L).attr("x2", L).attr("y1", T).attr("y2", B).attr("stroke", "#555").attr("stroke-width", 1.2);
svg.append("line").attr("x1", L).attr("x2", R).attr("y1", T).attr("y2", T).attr("stroke", "#444").attr("stroke-width", 1.2);
svg.append("line").attr("x1", L).attr("x2", R).attr("y1", B).attr("y2", B).attr("stroke", "#000").attr("stroke-width", 1.2);

// labels
svg.append("text").attr("x", 589).attr("y", 390).attr("text-anchor", "middle")
  .attr("font-family", font).attr("font-weight", "bold").attr("font-size", 21.5).attr("fill", "#111").text(xLabel);
svg.append("text").attr("transform", "translate(31,175) rotate(-90)").attr("text-anchor", "middle")
  .attr("font-family", font).attr("font-weight", "bold").attr("font-size", 21.5).attr("fill", "#111").text(yLabel);
</script>
</body></html>
